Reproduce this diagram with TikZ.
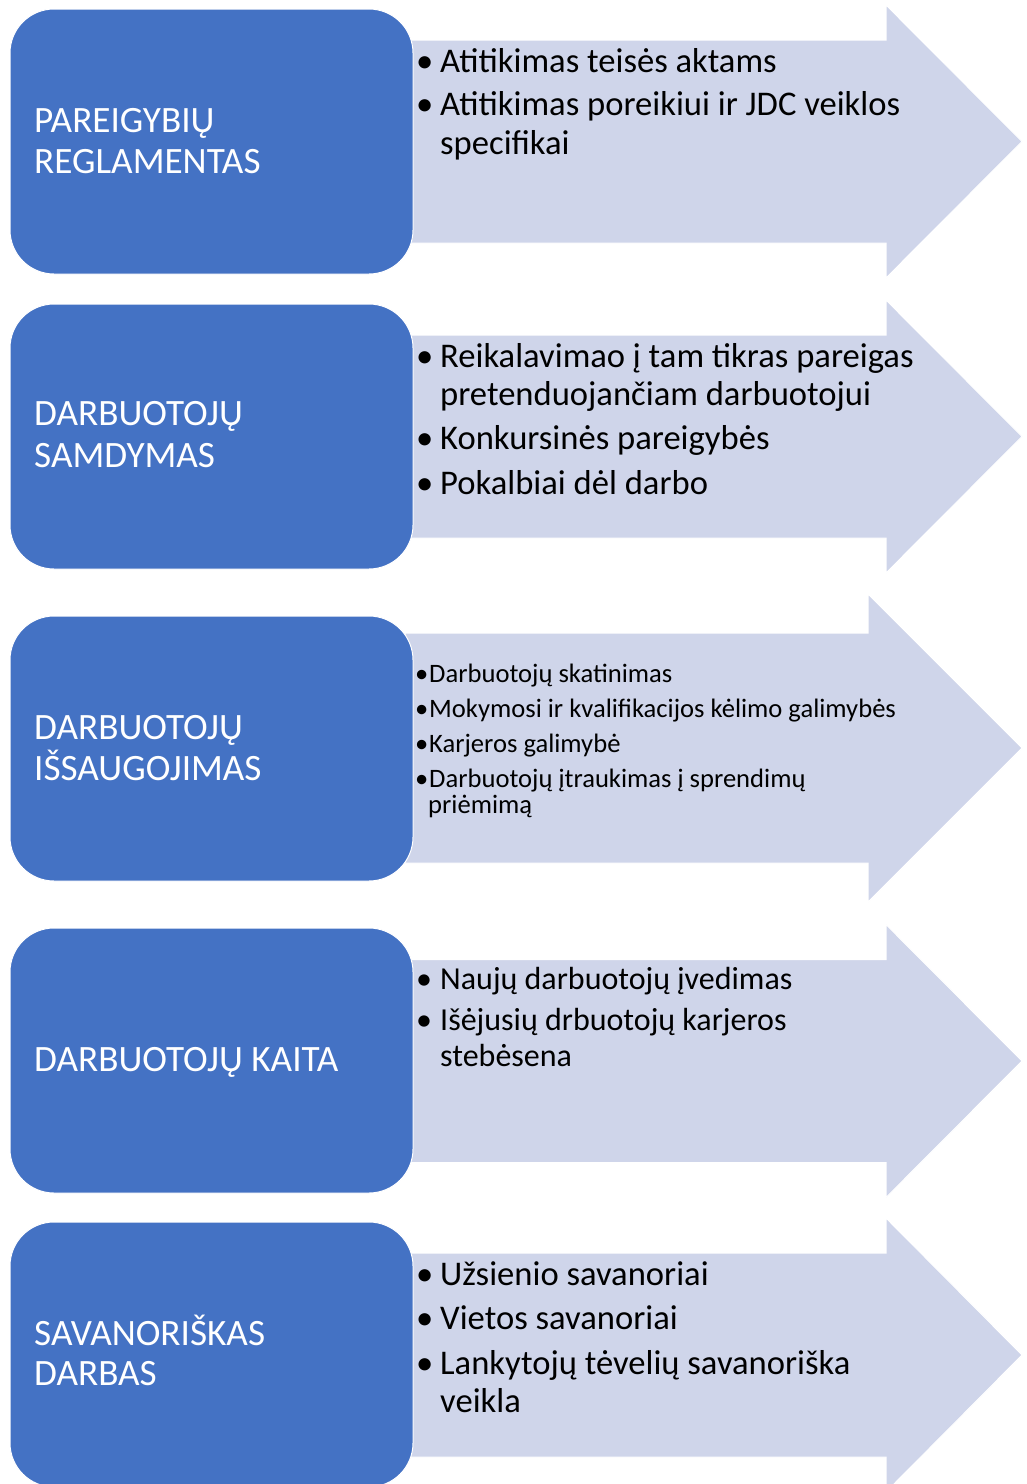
\documentclass[tikz,border=0pt]{standalone}
\usepackage{fontspec}
\setmainfont{Carlito}
\definecolor{boxblue}{HTML}{4472C4}
\definecolor{arrowfill}{HTML}{CFD5EA}
\newcommand\rowarrow[4]{% center y, shaft half, head half, head start x
  \fill[arrowfill, draw=white, line width=1pt]
    (405,#1-#2) -- (#4,#1-#2) -- (#4,#1-#3) -- (1022,#1) -- (#4,#1+#3) -- (#4,#1+#2) -- (405,#1+#2) -- cycle;}
\begin{document}
\begin{tikzpicture}[x=1pt,y=-1pt,
  catbox/.style={fill=boxblue, draw=white, line width=1pt, rounded corners=44pt,
    minimum width=403pt, minimum height=265pt, inner sep=0pt},
  cattext/.style={anchor=base west, inner sep=0pt, text=white, font=\fontsize{37.2}{40}\selectfont},
  bigtext/.style={anchor=base west, inner sep=0pt, text=black, font=\fontsize{34.6}{39}\selectfont},
  midtext/.style={anchor=base west, inner sep=0pt, text=black, font=\fontsize{32}{36}\selectfont},
  smalltext/.style={anchor=base west, inner sep=0pt, text=black, font=\fontsize{26.6}{26}\selectfont}]
\useasboundingbox (0,0) rectangle (1027,1484);
\fill[white] (0,0) rectangle (1027,1484);

% arrows
\rowarrow{141.5}{101.5}{136.5}{886}
\rowarrow{436.5}{101.5}{136.5}{886}
\rowarrow{748}{115}{154}{868}
\rowarrow{1061}{101.5}{136.5}{886}
\rowarrow{1355}{102}{137}{886}

% category boxes
\node[catbox] (b1) at (211.5,141.5) {};
\node[catbox] (b2) at (211.5,436.5) {};
\node[catbox] (b3) at (211.5,748.5) {};
\node[catbox] (b4) at (211.5,1060.5) {};
\node[catbox] (b5) at (211.5,1354.5) {};

% category labels
\node[cattext] (l1a) at (34,132) {PAREIGYBIŲ};
\node[cattext] (l1b) at (34,173) {REGLAMENTAS};
\node[cattext] (l2a) at (34,425) {DARBUOTOJŲ};
\node[cattext] (l2b) at (34,467) {SAMDYMAS};
\node[cattext] (l3a) at (34,739) {DARBUOTOJŲ};
\node[cattext] (l3b) at (34,780) {IŠSAUGOJIMAS};
\node[cattext] (l4a) at (34,1071) {DARBUOTOJŲ KAITA};
\node[cattext] (l5a) at (34,1345) {SAVANORIŠKAS};
\node[cattext] (l5b) at (34,1385) {DARBAS};

% row 1 items
\node[bigtext] (p1) at (416,72) {•};
\node[bigtext] (t1) at (440,72) {Atitikimas teisės aktams};
\node[bigtext] (p2) at (416,115) {•};
\node[bigtext] (t2) at (440,115) {Atitikimas poreikiui ir JDC veiklos};
\node[bigtext] (t2b) at (440,154) {specifikai};

% row 2 items
\node[bigtext] (p3) at (416,367) {•};
\node[bigtext] (t3) at (440,367) {Reikalavimao į tam tikras pareigas};
\node[bigtext] (t3b) at (440,405) {pretenduojančiam darbuotojui};
\node[bigtext] (p4) at (416,449) {•};
\node[bigtext] (t4) at (440,449) {Konkursinės pareigybės};
\node[bigtext] (p5) at (416,494) {•};
\node[bigtext] (t5) at (440,494) {Pokalbiai dėl darbo};

% row 3 items
\node[smalltext] (p6) at (415,682) {•};
\node[smalltext] (t6) at (429,682) {Darbuotojų skatinimas};
\node[smalltext] (p7) at (415,717) {•};
\node[smalltext] (t7) at (429,717) {Mokymosi ir kvalifikacijos kėlimo galimybės};
\node[smalltext] (p8) at (415,752) {•};
\node[smalltext] (t8) at (429,752) {Karjeros galimybė};
\node[smalltext] (p9) at (415,787) {•};
\node[smalltext] (t9) at (429,787) {Darbuotojų įtraukimas į sprendimų};
\node[smalltext] (t9b) at (428,813) {priėmimą};

% row 4 items
\node[midtext] (p10) at (416,989) {•};
\node[midtext] (t10) at (440,989) {Naujų darbuotojų įvedimas};
\node[midtext] (p11) at (416,1030) {•};
\node[midtext] (t11) at (440,1030) {Išėjusių drbuotojų karjeros};
\node[midtext] (t11b) at (440,1066) {stebėsena};

% row 5 items
\node[bigtext] (p12) at (416,1285) {•};
\node[bigtext] (t12) at (440,1285) {Užsienio savanoriai};
\node[bigtext] (p13) at (416,1329) {•};
\node[bigtext] (t13) at (440,1329) {Vietos savanoriai};
\node[bigtext] (p14) at (416,1374) {•};
\node[bigtext] (t14) at (440,1374) {Lankytojų tėvelių savanoriška};
\node[bigtext] (t14b) at (440,1412) {veikla};
\end{tikzpicture}
\end{document}
